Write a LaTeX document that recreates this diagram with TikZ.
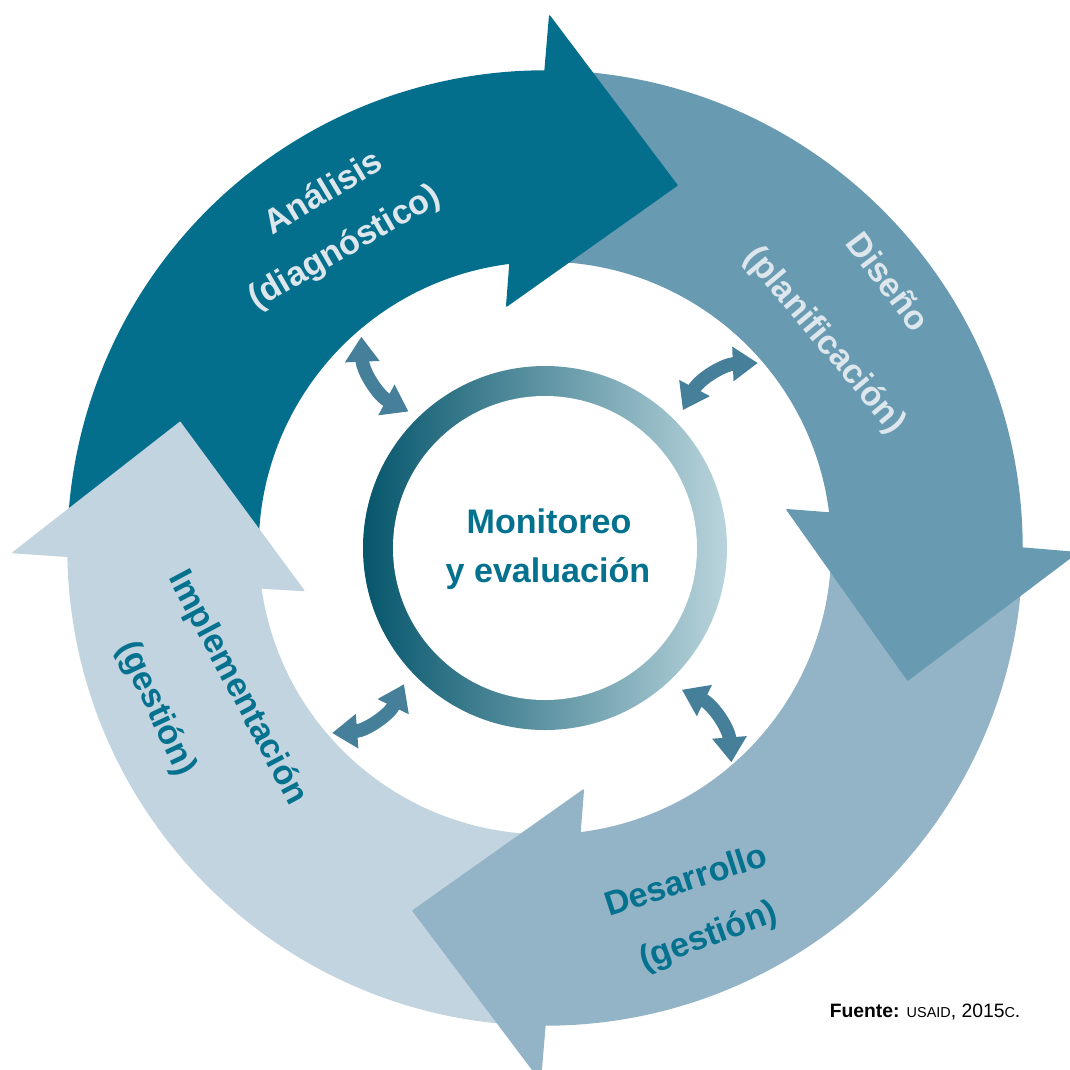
\documentclass[tikz,border=0pt]{standalone}
\usepackage{fontspec}
\setmainfont{Liberation Sans}
\usetikzlibrary{arrows.meta}

\definecolor{analisis}{HTML}{036F8D}
\definecolor{diseno}{HTML}{689BB1}
\definecolor{desarrollo}{HTML}{93B4C7}
\definecolor{implementa}{HTML}{C1D4DF}
\definecolor{textclaro}{HTML}{DCE6EC}
\definecolor{textazul}{HTML}{04718F}
\definecolor{flecha}{HTML}{467F99}
\definecolor{anillooscuro}{HTML}{06566C}
\definecolor{anillomedio}{HTML}{1A7A94}
\definecolor{anilloclaro}{HTML}{B9D4DC}

\begin{document}
\begin{tikzpicture}[x=0.1mm,y=0.1mm,
	cuerpo/.style={line width=0.4pt,line join=round},
	etiqueta/.style={font=\fontsize{9.7}{12}\selectfont\bfseries,inner sep=0pt,text height=6.4pt,text depth=0pt},
	centro/.style={font=\fontsize{9.7}{12}\selectfont\bfseries,inner sep=0pt,text=textazul,anchor=base},
	flechita/.style={flecha,line width=1.35mm,{Triangle[width=3.3mm,length=2.5mm]}-{Triangle[width=3.3mm,length=2.5mm]}}]

\useasboundingbox (-545,-521) rectangle (525,548);

\filldraw[cuerpo,fill=analisis,draw=analisis]     (181:477) arc[start angle=181,end angle=90,radius=477] -- (97:287) arc[start angle=97,end angle=181,radius=287] -- cycle;
\filldraw[cuerpo,fill=diseno,draw=diseno]         (90:477) arc[start angle=90,end angle=0,radius=477] -- (7:287) arc[start angle=7,end angle=90,radius=287] -- cycle;
\filldraw[cuerpo,fill=desarrollo,draw=desarrollo] (0:477) arc[start angle=0,end angle=-90,radius=477] -- (-83:287) arc[start angle=-83,end angle=0,radius=287] -- cycle;
\filldraw[cuerpo,fill=implementa,draw=implementa] (270:477) arc[start angle=270,end angle=181,radius=477] -- (188:287) arc[start angle=188,end angle=270,radius=287] -- cycle;

\filldraw[cuerpo,fill=analisis,draw=analisis]     (90:477) -- (89.5:532) -- (70:386) -- (99:245) -- (97:287) -- cycle;
\filldraw[cuerpo,fill=diseno,draw=diseno]         (0:477) -- (-0.5:532) -- (-20:386) -- (9:245) -- (7:287) -- cycle;
\filldraw[cuerpo,fill=desarrollo,draw=desarrollo] (-90:477) -- (-90.5:532) -- (-110:386) -- (-81:245) -- (-83:287) -- cycle;
\filldraw[cuerpo,fill=implementa,draw=implementa] (181:477) -- (180.5:532) -- (161:386) -- (190:245) -- (188:287) -- cycle;

\shade[left color=anillooscuro,middle color=anillomedio,right color=anilloclaro] (0,0) circle[radius=182];
\fill[white] (0,0) circle[radius=152];

\node[centro] (mon) at (4,15) {Monitoreo};
\node[centro] (eva) at (3,-34) {y evaluación};

\node[etiqueta,text=textclaro,rotate=31]  (ana)  at (-222,356) {Análisis};
\node[etiqueta,text=textclaro,rotate=30]  (diag) at (-201,302) {(diagnóstico)};
\node[etiqueta,text=textclaro,rotate=-53] (dis)  at (343,266)  {Diseño};
\node[etiqueta,text=textclaro,rotate=-50] (plan) at (281,209)  {(planificación)};
\node[etiqueta,text=textazul,rotate=18]   (des)  at (141,-332) {Desarrollo};
\node[etiqueta,text=textazul,rotate=20]   (gesd) at (163,-387) {(gestión)};
\node[etiqueta,text=textazul,rotate=-62]  (imp)  at (-306,-139) {Implementación};
\node[etiqueta,text=textazul,rotate=-65]  (gesi) at (-387,-160) {(gestión)};

\coordinate (tlext) at (131:280);
\coordinate (tlint) at (135:193);
\coordinate (trext) at (41:282);
\coordinate (trint) at (45:195);
\coordinate (brext) at (-49:284);
\coordinate (brint) at (-46:197);
\coordinate (blext) at (-139:282);
\coordinate (blint) at (-136:196);

\draw[flechita] (tlext) to[bend right=30] (tlint);
\draw[flechita] (trext) to[bend right=30] (trint);
\draw[flechita] (brext) to[bend right=30] (brint);
\draw[flechita] (blext) to[bend right=30] (blint);

\node[anchor=base east,inner sep=0pt,font=\fontsize{5.5}{6}\selectfont] (fuente) at (476,-469) {\textbf{Fuente:} {\fontsize{4.1}{5}\selectfont USAID}, 2015{\fontsize{4.1}{5}\selectfont C}.};

\end{tikzpicture}
\end{document}
